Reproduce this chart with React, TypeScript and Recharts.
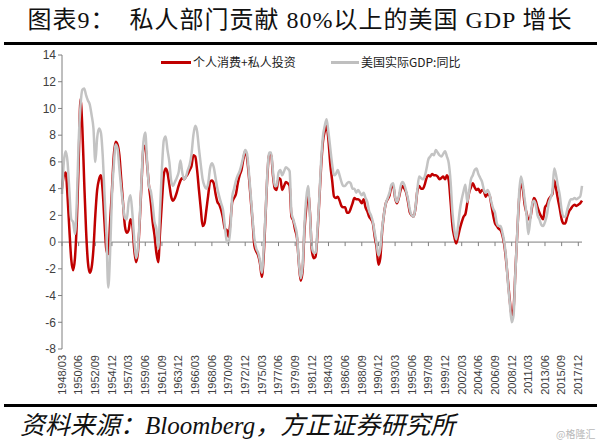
import React from 'react';
import { LineChart, Line, XAxis, YAxis, ReferenceLine } from 'recharts';

const startYear = 1948;
const quarterMonths = ['03', '06', '09', '12'];

// 个人消费+私人投资 (contribution, %)
const consumptionInvestment = [
  4.0, 5.0, 5.2, 3.4, 0.9, -1.3, -2.1, -1.2, 1.5, 6.0,
  10.7, 8.5, 4.5, 0.9, -1.5, -2.3, -1.9, -0.5, 2.0, 3.9,
  4.7, 5.0, 3.8, 1.4, -0.6, -0.9, 1.5, 3.9, 6.5, 7.5,
  7.3, 6.5, 4.7, 2.9, 1.2, 0.7, 0.9, 1.7, 1.3, -0.5,
  -1.5, -0.8, 1.5, 4.5, 7.0, 7.2, 5.8, 4.2, 3.0, 1.5,
  0.5, -0.8, -1.5, 0.8, 3.0, 5.0, 5.5, 5.2, 4.3, 3.4,
  3.1, 3.3, 3.7, 4.2, 4.6, 4.8, 4.7, 4.9, 5.1, 5.4,
  5.7, 6.5, 6.4, 5.4, 3.9, 2.5, 1.2, 1.4, 2.4, 3.5,
  4.5, 4.6, 4.4, 3.6, 3.0, 2.8, 2.4, 1.8, 1.0, 0.9,
  0.4, 1.5, 3.0, 3.3, 3.6, 4.4, 5.0, 5.4, 6.2, 6.8,
  6.3, 4.9, 3.2, 1.5, -0.3, -0.7, -1.0, -1.6, -2.6, -1.0,
  2.0, 5.0, 6.6, 6.6, 5.0, 4.0, 3.9, 4.8, 4.7, 3.9,
  4.2, 4.5, 4.4, 4.2, 1.9, 1.6, 0.9, 0.3, -1.6, -2.9,
  -2.2, 0.8, 2.6, 3.7, 2.2, -0.6, -1.2, -1.1, 0.5, 3.0,
  5.6, 7.5, 8.3, 8.7, 7.6, 5.8, 4.6, 3.4, 3.3, 3.4,
  3.1, 2.7, 2.6, 2.6, 2.2, 2.2, 2.5, 2.9, 3.3, 3.2,
  3.2, 3.1, 2.9, 3.2, 2.6, 2.3, 1.9, 1.7, 1.4, 0.4,
  -0.4, -1.7, -1.2, 0.8, 2.1, 2.9, 3.2, 3.5, 4.1, 4.2,
  3.3, 2.9, 3.3, 3.9, 4.2, 4.0, 3.7, 3.0, 2.2, 2.0,
  1.9, 2.5, 3.8, 4.2, 4.0, 4.0, 4.3, 4.8, 5.0, 4.9,
  5.1, 5.0, 5.0, 4.9, 4.7, 4.8, 4.9, 4.7, 5.0, 4.6,
  3.0, 1.2, 0.4, -0.1, 0.4, 1.0, 1.5, 1.9, 2.1, 2.9,
  3.7, 4.1, 4.4, 4.1, 3.9, 4.0, 3.7, 3.9, 3.8, 3.4,
  3.6, 3.5, 2.8, 2.0, 1.4, 1.2, 1.0, 0.9, 0.5, -0.2,
  -1.4, -2.9, -4.4, -5.5, -5.0, -2.2, 0.6, 3.2, 4.4, 4.0,
  2.8, 2.2, 1.7, 1.8, 2.6, 3.3, 3.1, 2.6, 2.2, 1.9,
  1.7, 2.6, 2.8, 3.2, 3.4, 3.6, 4.6, 4.0, 3.2, 2.5,
  1.7, 1.4, 1.4, 1.9, 2.3, 2.5, 2.7, 2.8, 2.7, 2.8,
  2.9, 3.1,
];

// 美国实际GDP:同比 (%)
const realGdpYoY = [
  3.6, 6.0, 6.8, 6.0, 3.8, 1.7, 1.5, 0.6, 3.0, 7.5,
  10.2, 11.4, 11.5, 11.0, 10.6, 10.3, 9.5, 8.5, 6.0, 7.8,
  8.5, 8.2, 6.5, 3.5, 0.6, -3.4, -0.8, 3.5, 5.8, 7.3,
  7.0, 5.5, 4.0, 2.8, 1.8, 1.7, 3.0, 3.5, 2.2, 0.3,
  -1.2, -0.5, 1.8, 4.8, 7.5, 8.2, 6.0, 4.2, 3.8, 2.8,
  1.5, 1.0, -0.5, 2.5, 5.5, 7.6, 7.9, 6.9, 6.0, 4.6,
  4.2, 4.5, 4.8, 5.2, 6.1, 5.2, 4.7, 4.9, 5.4, 5.8,
  6.6, 8.0, 8.7, 8.3, 7.0, 5.8, 4.7, 4.2, 4.0, 4.4,
  5.5, 5.9, 5.6, 4.8, 4.0, 3.4, 2.9, 2.4, 1.2, 0.1,
  -0.1, 1.0, 3.4, 4.0, 4.6, 5.0, 5.3, 5.8, 6.4, 6.9,
  6.6, 5.2, 3.5, 1.7, 0.2, -0.5, -0.8, -1.4, -2.3, -0.5,
  2.2, 5.2, 6.7, 6.7, 5.3, 4.2, 4.2, 5.2, 5.4, 5.0,
  5.3, 5.6, 5.5, 5.3, 2.2, 1.7, 1.2, 0.5, -1.5, -2.7,
  -1.8, 1.2, 3.3, 4.2, 2.0, -0.3, -0.8, -0.8, 0.8, 3.2,
  6.0, 7.9, 8.7, 9.2, 8.2, 7.0, 5.8, 5.0, 5.1, 5.4,
  5.0, 4.5, 4.2, 4.2, 4.4, 4.5, 4.4, 4.0, 4.0, 3.7,
  3.9, 3.7, 3.5, 3.7, 3.3, 3.0, 2.3, 2.0, 1.5, 0.7,
  -0.1, -1.0, -0.5, 1.0, 2.1, 2.9, 3.3, 3.7, 4.3, 4.4,
  3.4, 3.0, 3.4, 4.2, 4.5, 4.3, 3.8, 3.2, 2.4, 2.0,
  1.9, 2.6, 3.9, 4.9, 4.8, 4.7, 4.9, 5.5, 6.2, 6.4,
  6.6, 6.5, 6.9, 6.7, 6.5, 6.4, 6.6, 6.8, 6.4, 5.9,
  4.5, 2.2, 0.9, 0.2, 1.2, 2.4, 3.2, 3.8, 4.3, 3.0,
  3.8, 4.7, 5.0, 5.4, 5.5, 5.1, 4.8, 4.5, 3.9, 3.7,
  3.9, 3.6, 3.0, 2.5, 2.2, 1.4, 1.2, 1.2, 0.7, 0.0,
  -1.2, -3.1, -4.6, -6.0, -5.5, -2.3, 0.6, 3.6, 4.9, 4.3,
  3.2, 2.1, 0.6, 1.6, 2.8, 3.1, 2.8, 2.0, 1.7, 1.3,
  1.2, 1.5, 2.0, 2.9, 3.3, 3.8, 5.5, 5.0, 4.2, 3.5,
  2.4, 1.9, 1.9, 2.4, 2.9, 3.2, 3.2, 3.3, 3.2, 3.3,
  3.4, 4.2,
];

const yTicks = [-8, -6, -4, -2, 0, 2, 4, 6, 8, 10, 12, 14];

const quarters = consumptionInvestment.map(
  (_, i) => `${startYear + Math.floor(i / 4)}/${quarterMonths[i % 4]}`
);

const data = quarters.map((q, i) => ({
  q,
  ci: consumptionInvestment[i],
  gdp: realGdpYoY[i],
}));

const W = 600;
const H = 445;
const PLOT_TOP = 55;
const PLOT_LEFT = 62;
const PLOT_RIGHT = 582;
const X_AXIS_H = 96;
const PLOT_BOTTOM = H - X_AXIS_H;
const Y_MIN = -8;
const Y_MAX = 14;
const ZERO_Y = PLOT_TOP + ((Y_MAX - 0) / (Y_MAX - Y_MIN)) * (PLOT_BOTTOM - PLOT_TOP);
const LABEL_TOP = 355;

const XTick = (props: any) => {
  const { x, payload } = props;
  return (
    <g>
      <line x1={x} x2={x} y1={ZERO_Y} y2={ZERO_Y + 4} stroke="#7f7f7f" strokeWidth={1} />
      <text
        x={x}
        y={LABEL_TOP}
        transform={`rotate(-90, ${x}, ${LABEL_TOP})`}
        textAnchor="end"
        dy="0.35em"
        fontSize={11}
        fontFamily='"Liberation Sans", Arial, sans-serif'
        fill="#404040"
      >
        {payload.value}
      </text>
    </g>
  );
};

export default function App() {
  return (
    <div
      style={{
        position: 'absolute',
        left: 0,
        top: 0,
        width: W,
        height: H,
        background: '#fff',
        overflow: 'hidden',
      }}
    >
      <div
        style={{
          position: 'absolute',
          left: 0,
          top: 5,
          width: W,
          textAlign: 'center',
          fontFamily: '"Liberation Serif", "Noto Sans CJK SC", serif',
          fontSize: 24,
          letterSpacing: 1,
          color: '#111',
          whiteSpace: 'pre',
          lineHeight: '30px',
        }}
      >
        {'图表9：  私人部门贡献 80%以上的美国 GDP 增长'}
      </div>
      <div style={{ position: 'absolute', left: 4, top: 42, width: 593, height: 3, background: '#000' }} />

      <div
        style={{
          position: 'absolute',
          left: 0,
          top: 53,
          width: W,
          height: 18,
          fontFamily: '"Noto Sans CJK SC", sans-serif',
          fontSize: 12,
          color: '#222',
        }}
      >
        <div style={{ position: 'absolute', left: 161, top: 8, width: 30, height: 3, background: '#c00000' }} />
        <div style={{ position: 'absolute', left: 193, top: 0, lineHeight: '18px' }}>个人消费+私人投资</div>
        <div style={{ position: 'absolute', left: 331, top: 8, width: 28, height: 3, background: '#bfbfbf' }} />
        <div style={{ position: 'absolute', left: 361, top: 0, lineHeight: '18px' }}>美国实际GDP:同比</div>
      </div>

      <div style={{ position: 'absolute', left: 0, top: 0 }}>
        <LineChart
          width={W}
          height={H}
          data={data}
          margin={{ top: PLOT_TOP, right: W - PLOT_RIGHT, bottom: 0, left: PLOT_LEFT - 30 }}
        >
          <XAxis
            dataKey="q"
            interval={8}
            height={X_AXIS_H}
            axisLine={false}
            tickLine={false}
            tick={<XTick />}
          />
          <YAxis
            width={30}
            domain={[Y_MIN, Y_MAX]}
            ticks={yTicks}
            interval={0}
            axisLine={{ stroke: '#7f7f7f' }}
            tickLine={{ stroke: '#7f7f7f' }}
            tickSize={4}
            tick={{ fontSize: 12, fill: '#404040', fontFamily: '"Liberation Sans", Arial, sans-serif' }}
          />
          <ReferenceLine y={0} stroke="#7f7f7f" strokeWidth={1} />
          <Line
            type="monotone"
            dataKey="ci"
            stroke="#c00000"
            strokeWidth={2.5}
            dot={false}
            isAnimationActive={false}
          />
          <Line
            type="monotone"
            dataKey="gdp"
            stroke="#c3c3c3"
            strokeWidth={2.5}
            dot={false}
            isAnimationActive={false}
          />
        </LineChart>
      </div>

      <div style={{ position: 'absolute', left: 4, top: 404, width: 593, height: 3, background: '#000' }} />
      <div
        style={{
          position: 'absolute',
          left: 20,
          top: 410,
          fontFamily: '"Liberation Serif", "Noto Sans CJK SC", serif',
          fontStyle: 'italic',
          fontSize: 25,
          lineHeight: '32px',
          color: '#111',
          whiteSpace: 'pre',
        }}
      >
        资料来源：Bloomberg，方正证券研究所
      </div>
      <div
        style={{
          position: 'absolute',
          left: 556,
          top: 426,
          fontFamily: '"Noto Sans CJK SC", sans-serif',
          fontSize: 10,
          color: '#b8b8b8',
        }}
      >
        @格隆汇
      </div>
    </div>
  );
}
